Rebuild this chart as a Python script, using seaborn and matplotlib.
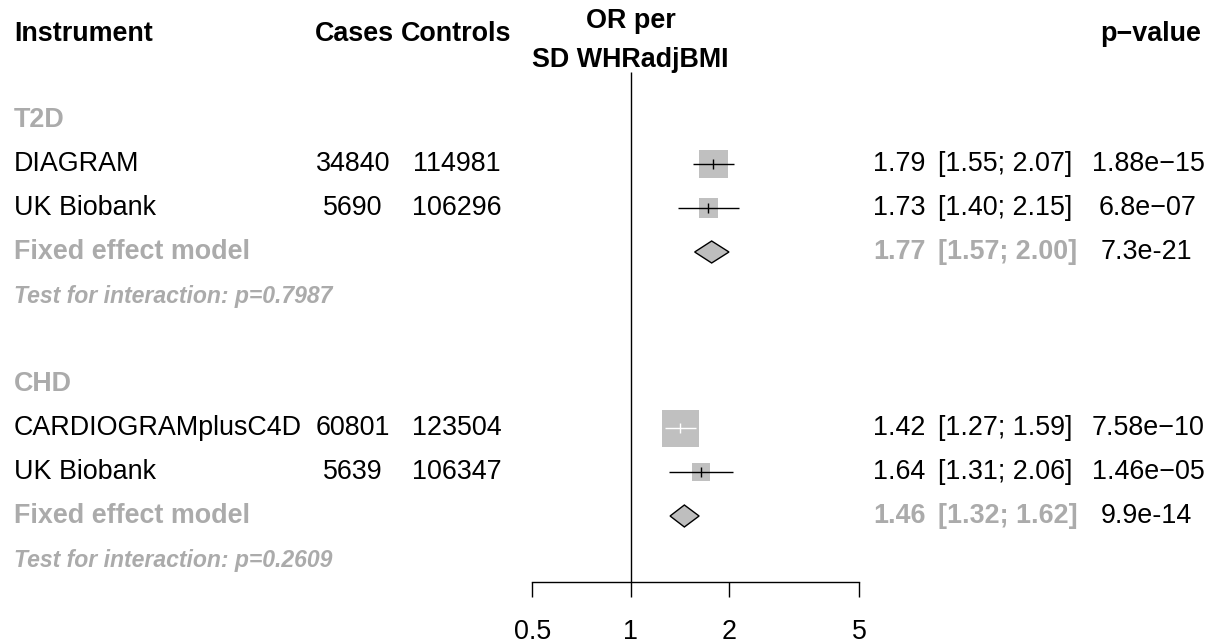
import numpy as np
import pandas as pd
import matplotlib
matplotlib.use("Agg")
import matplotlib.pyplot as plt
import seaborn as sns

# ---- data -----------------------------------------------------------------
groups = ["T2D", "CHD"]
study_group = ["T2D", "T2D", "CHD", "CHD"]
studies = ["DIAGRAM", "UK Biobank", "CARDIOGRAMplusC4D", "UK Biobank"]
cases = [34840, 5690, 60801, 5639]
controls = [114981, 106296, 123504, 106347]
or_est = [1.79, 1.73, 1.42, 1.64]
or_low = [1.55, 1.40, 1.27, 1.31]
or_high = [2.07, 2.15, 1.59, 2.06]
p_values = ["1.88e\u221215", "6.8e\u221207", "7.58e\u221210", "1.46e\u221205"]

fixed_est = [1.77, 1.46]
fixed_low = [1.57, 1.32]
fixed_high = [2.00, 1.62]
fixed_p = ["7.3e-21", "9.9e-14"]
interaction_p = ["0.7987", "0.2609"]

xticks = [0.5, 1, 2, 5]
xtick_labels = ["0.5", "1", "2", "5"]

# ---- style ----------------------------------------------------------------
sns.set_theme(style="white")
plt.rcParams["font.family"] = ["Liberation Sans", "DejaVu Sans"]

W, H = 1217, 644
FS = 19.4
FS_SMALL = 16.6
GREY_TXT = "#ABABAB"
GREY_BOX = "#C0C0C0"

fig = plt.figure(figsize=(W / 100, H / 100), dpi=100)
fig.patch.set_facecolor("white")
axis_px = 582          # vertical pixel position of the x axis line
ax = fig.add_axes([0, (H - axis_px) / H, 1, axis_px / H])
ax.set_facecolor("white")

# log scale: 1 sits at 630.7 px, 141.8 px per natural-log unit
x_one_px, px_per_ln = 630.7, 141.8
ax.set_xscale("log")
ax.set_xlim(np.exp(-x_one_px / px_per_ln), np.exp((W - x_one_px) / px_per_ln))
row_px, first_row_px = 44.0, 164.0
ax.set_ylim((axis_px - first_row_px) / row_px, -first_row_px / row_px)

# ---- row layout -------------------------------------------------------------
rows_study, rows_group, rows_fixed, rows_test = [], [], [], []
r = -1
for g in groups:
    rows_group.append(r)
    r += 1
    for sg in study_group:
        if sg == g:
            rows_study.append(r)
            r += 1
    rows_fixed.append(r)
    rows_test.append(r + 1)
    r += 3

# inverse-variance weights from the confidence intervals
se = (np.log(or_high) - np.log(or_low)) / (2 * 1.96)
weights = 1 / se ** 2

df = pd.DataFrame({"est": or_est, "row": rows_study, "w": weights})

max_side_pt = 37 * 0.72
sns.scatterplot(data=df, x="est", y="row", size="w",
                sizes=(0, max_side_pt ** 2), size_norm=(0, weights.max()),
                marker="s", color=GREY_BOX, edgecolor="none", linewidth=0,
                legend=False, ax=ax, zorder=2)

# confidence interval lines, white when hidden inside the square
fig.canvas.draw()
to_px = ax.transData.transform
for est, lo, hi, row, w in zip(or_est, or_low, or_high, rows_study, weights):
    half_side_px = np.sqrt(max_side_pt ** 2 * w / weights.max()) / 0.72 / 2
    cx = to_px((est, row))[0]
    lx = to_px((lo, row))[0]
    hx = to_px((hi, row))[0]
    inside = (cx - lx) < half_side_px and (hx - cx) < half_side_px
    col = "white" if inside else "black"
    ax.hlines(row, lo, hi, color=col, lw=1.0, zorder=3)
    ax.vlines(est, row - 0.12, row + 0.12, color=col, lw=1.0, zorder=3)

# pooled diamonds
for est, lo, hi, row in zip(fixed_est, fixed_low, fixed_high, rows_fixed):
    ax.fill([lo, est, hi, est], [row, row - 0.25, row, row + 0.25],
            facecolor="#BEBEBE", edgecolor="black", lw=1.0, zorder=3)

# line of no effect
ax.vlines(1, -2.09, (axis_px - first_row_px) / row_px, color="black", lw=1.0, zorder=1)

# x axis
for s in ["top", "left", "right"]:
    ax.spines[s].set_visible(False)
ax.spines["bottom"].set_bounds(xticks[0], xticks[-1])
ax.spines["bottom"].set_color("black")
ax.spines["bottom"].set_linewidth(1.0)
ax.set_xticks(xticks)
ax.set_xticklabels(xtick_labels)
ax.minorticks_off()
ax.tick_params(axis="x", which="major", direction="out", length=10.8, width=1.0,
               color="black", pad=16, labelsize=FS, labelcolor="black", bottom=True)
ax.set_yticks([])
ax.set_xlabel("")
ax.set_ylabel("")
ax.grid(False)

# ---- text columns -------------------------------------------------------------
tr = ax.get_yaxis_transform()


def col(px):
    return px / W


def put(px, row, s, ha="left", **kw):
    kw.setdefault("fontsize", FS)
    kw.setdefault("color", "black")
    ax.text(col(px), row, s, ha=ha, va="center", transform=tr, **kw)


hdr_row = (34 - first_row_px) / row_px
put(14, hdr_row, "Instrument", fontweight="bold")
put(354, hdr_row, "Cases", ha="center", fontweight="bold")
put(456, hdr_row, "Controls", ha="center", fontweight="bold")
put(1151, hdr_row, "p\u2212value", ha="center", fontweight="bold")
put(x_one_px, (21 - first_row_px) / row_px, "OR per", ha="center", fontweight="bold")
put(x_one_px, (60 - first_row_px) / row_px, "SD WHRadjBMI", ha="center", fontweight="bold")

for g, row in zip(groups, rows_group):
    put(14, row, g, color=GREY_TXT, fontweight="bold")

for name, ca, co, est, lo, hi, p, row in zip(studies, cases, controls, or_est,
                                           or_low, or_high, p_values, rows_study):
    put(14, row, name)
    put(353, row, str(ca), ha="center")
    put(457, row, str(co), ha="center")
    put(873, row, f"{est:.2f}")
    put(938, row, f"[{lo:.2f}; {hi:.2f}]")
    put(1148, row, p, ha="center")

for est, lo, hi, p, row in zip(fixed_est, fixed_low, fixed_high, fixed_p, rows_fixed):
    put(14, row, "Fixed effect model", color=GREY_TXT, fontweight="bold")
    put(873, row, f"{est:.2f}", color=GREY_TXT, fontweight="bold")
    put(938, row, f"[{lo:.2f}; {hi:.2f}]", color=GREY_TXT, fontweight="bold")
    put(1146, row, p, ha="center")

for p, row in zip(interaction_p, rows_test):
    put(14, row, f"Test for interaction: p={p}", color=GREY_TXT,
        fontweight="bold", fontstyle="italic", fontsize=FS_SMALL)

fig.savefig("out.png", dpi=100, facecolor="white")
